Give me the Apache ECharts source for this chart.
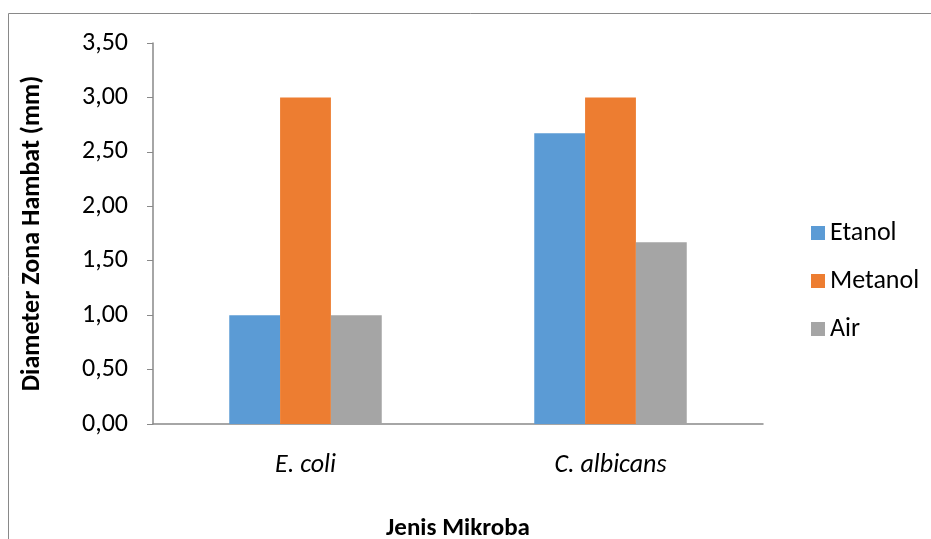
<!DOCTYPE html>
<html>
<head>
<meta charset="utf-8">
<script src="https://cdn.jsdelivr.net/npm/echarts@6/dist/echarts.min.js"></script>
<style>
  html, body { margin: 0; padding: 0; background: #fff; }
  #chart { width: 931px; height: 539px; }
</style>
</head>
<body>
<div id="chart"></div>
<script>
// data
const categories = ['E. coli', 'C. albicans'];
const etanol = [1.00, 2.67];
const metanol = [3.00, 3.00];
const air = [1.00, 1.67];
const seriesNames = ['Etanol', 'Metanol', 'Air'];
const seriesColors = ['#5B9BD5', '#ED7D31', '#A5A5A5'];

const font = 'Carlito, "Noto Sans", sans-serif';
const chart = echarts.init(document.getElementById('chart'));

function barSeries(name, values, color) {
    return {
        name: name,
        type: 'bar',
        data: values,
        barGap: '0%',
        barCategoryGap: '50%',
        itemStyle: { color: color },
        animation: false
    };
}

chart.setOption({
    animation: false,
    textStyle: { fontFamily: font },
    graphic: [{
        type: 'rect',
        shape: { x: 8.5, y: 13.5, width: 1000, height: 600 },
        style: { fill: 'none', stroke: '#898989', lineWidth: 1 },
        silent: true
    }],
    grid: { left: 153, right: 168, top: 43, bottom: 115, outerBoundsMode: 'none' },
    legend: {
        orient: 'vertical',
        left: 806,
        top: 215,
        itemWidth: 14,
        itemHeight: 14,
        itemGap: 22,
        icon: 'rect',
        textStyle: { fontSize: 26, color: '#000', fontFamily: font },
        data: seriesNames
    },
    xAxis: {
        type: 'category',
        data: categories,
        name: 'Jenis Mikroba',
        nameLocation: 'middle',
        nameGap: 92,
        nameTextStyle: { fontSize: 25, fontWeight: 'bold', color: '#000', fontFamily: font },
        axisLine: { lineStyle: { color: '#898989', width: 1.5 } },
        axisTick: { show: false },
        axisLabel: { fontSize: 26, fontStyle: 'italic', color: '#000', margin: 28, fontFamily: font }
    },
    yAxis: {
        type: 'value',
        min: 0,
        max: 3.5,
        interval: 0.5,
        name: 'Diameter Zona Hambat (mm)',
        nameLocation: 'middle',
        nameGap: 108,
        nameTextStyle: { fontSize: 26, fontWeight: 'bold', color: '#000', fontFamily: font },
        axisLine: { show: true, lineStyle: { color: '#898989', width: 1.5 } },
        axisTick: { show: true, length: 6, lineStyle: { color: '#898989' } },
        splitLine: { show: false },
        axisLabel: {
            fontSize: 26,
            color: '#000',
            margin: 25,
            fontFamily: font,
            formatter: v => v.toFixed(2).replace('.', ',')
        }
    },
    series: [
        barSeries(seriesNames[0], etanol, seriesColors[0]),
        barSeries(seriesNames[1], metanol, seriesColors[1]),
        barSeries(seriesNames[2], air, seriesColors[2])
    ]
});
</script>
</body>
</html>
